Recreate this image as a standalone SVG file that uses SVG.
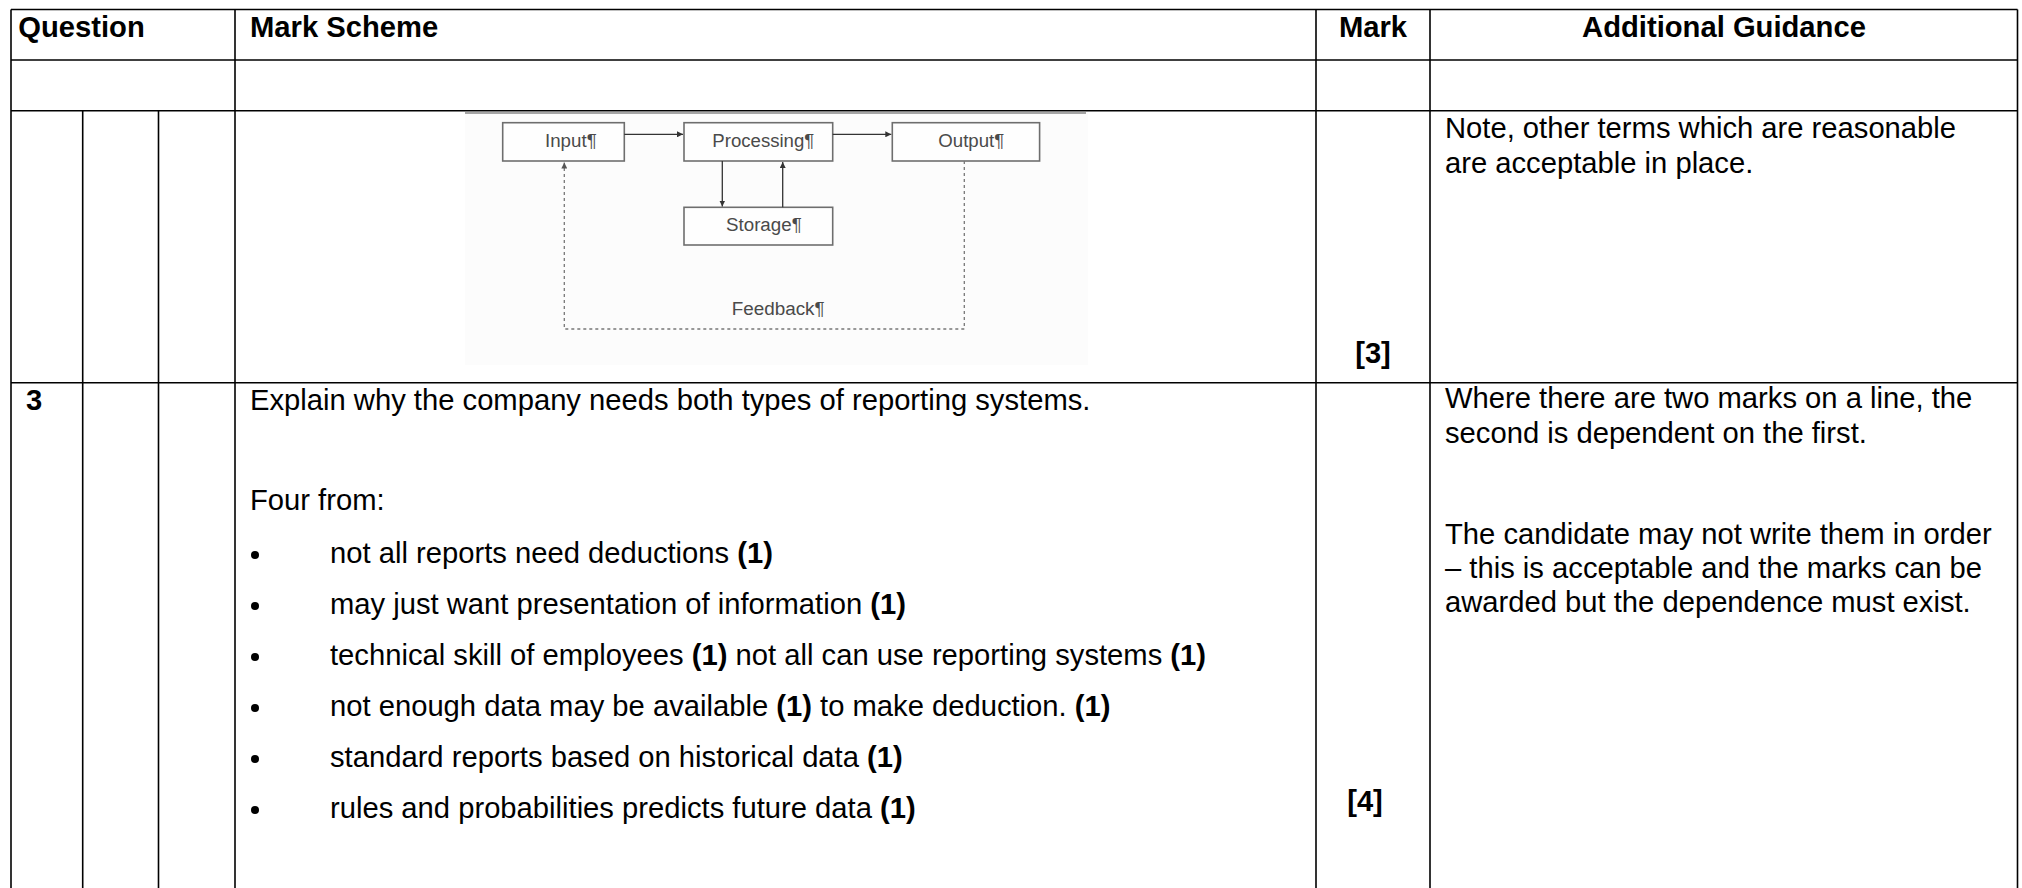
<svg xmlns="http://www.w3.org/2000/svg" width="2022" height="888" viewBox="0 0 2022 888">
<style>
  .t { font-family: "Liberation Sans", Arial, sans-serif; font-size: 29.2px; fill: #000; }
  .b { font-weight: bold; }
  .grid { stroke: #000; stroke-width: 1.6; fill: none; }
  .box { fill: #fefefe; stroke: #6e6e6e; stroke-width: 1.6; }
  .dt { font-family: "Liberation Sans", Arial, sans-serif; font-size: 18px; fill: #4a4a4a; }
  .arr { stroke: #333; stroke-width: 1.3; fill: none; }
  .dash { stroke: #777; stroke-width: 1.3; fill: none; stroke-dasharray: 3 3; }
</style>
<defs>
  <marker id="ah" viewBox="0 0 10 10" refX="10" refY="5" markerWidth="6" markerHeight="6" orient="auto" markerUnits="userSpaceOnUse">
    <path d="M0,0 L10,5 L0,10 z" fill="#333"/>
  </marker>
  <marker id="ahd" viewBox="0 0 10 10" refX="10" refY="5" markerWidth="6" markerHeight="6" orient="auto" markerUnits="userSpaceOnUse">
    <path d="M0,0 L10,5 L0,10 z" fill="#555"/>
  </marker>
</defs>
<rect x="0" y="0" width="2022" height="888" fill="#fff"/>

<!-- embedded diagram background -->
<rect x="465" y="112" width="623" height="253" fill="#fcfcfc"/>
<line x1="465" y1="113" x2="1086" y2="113" stroke="#888" stroke-width="1.5"/>

<!-- table grid -->
<g id="table-grid">
  <line class="grid" x1="11" y1="9.5" x2="2017.5" y2="9.5"/>
  <line class="grid" x1="11" y1="9.5" x2="11" y2="888"/>
  <line class="grid" x1="2017.5" y1="9.5" x2="2017.5" y2="888"/>
  <line class="grid" x1="11" y1="60" x2="2017.5" y2="60"/>
  <line class="grid" x1="11" y1="110.7" x2="2017.5" y2="110.7"/>
  <line class="grid" x1="11" y1="382.7" x2="2017.5" y2="382.7"/>
  <line class="grid" x1="82.7" y1="110.7" x2="82.7" y2="888"/>
  <line class="grid" x1="158.5" y1="110.7" x2="158.5" y2="888"/>
  <line class="grid" x1="235" y1="9.5" x2="235" y2="888"/>
  <line class="grid" x1="1316" y1="9.5" x2="1316" y2="888"/>
  <line class="grid" x1="1430" y1="9.5" x2="1430" y2="888"/>
</g>

<!-- headers -->
<g id="headers">
  <text class="t b" x="18.3" y="37">Question</text>
  <text class="t b" x="250" y="37">Mark Scheme</text>
  <text class="t b" x="1373" y="37" text-anchor="middle">Mark</text>
  <text class="t b" x="1724" y="37" text-anchor="middle">Additional Guidance</text>
</g>

<!-- row with diagram -->
<g id="row-diagram">
  <text class="t b" x="1373" y="363" text-anchor="middle">[3]</text>
  <text class="t" x="1445" y="138.3">Note, other terms which are reasonable</text>
  <text class="t" x="1445" y="173.3">are acceptable in place.</text>
</g>

<!-- diagram nodes -->
<g id="node-input">
  <rect class="box" x="502.7" y="122.7" width="121.6" height="38.3"/>
  <text class="dt" x="545" y="146.7" textLength="51.7" lengthAdjust="spacingAndGlyphs">Input¶</text>
</g>
<g id="node-processing">
  <rect class="box" x="684" y="122.7" width="148.7" height="38.3"/>
  <text class="dt" x="712.3" y="146.7" textLength="102" lengthAdjust="spacingAndGlyphs">Processing¶</text>
</g>
<g id="node-output">
  <rect class="box" x="892.3" y="122.7" width="147.3" height="38.3"/>
  <text class="dt" x="938.3" y="146.7" textLength="66" lengthAdjust="spacingAndGlyphs">Output¶</text>
</g>
<g id="node-storage">
  <rect class="box" x="684" y="207.3" width="148.7" height="37.7"/>
  <text class="dt" x="726" y="230.7" textLength="75.7" lengthAdjust="spacingAndGlyphs">Storage¶</text>
</g>
<g id="label-feedback">
  <text class="dt" x="731.7" y="315" textLength="93" lengthAdjust="spacingAndGlyphs">Feedback¶</text>
</g>

<!-- connectors -->
<g id="connectors">
  <line class="arr" x1="624.3" y1="134.3" x2="683" y2="134.3" marker-end="url(#ah)"/>
  <line class="arr" x1="832.7" y1="134.3" x2="891.3" y2="134.3" marker-end="url(#ah)"/>
  <line class="arr" x1="722.3" y1="161" x2="722.3" y2="206.5" marker-end="url(#ah)"/>
  <line class="arr" x1="782.7" y1="207.3" x2="782.7" y2="162" marker-end="url(#ah)"/>
  <path class="dash" d="M964.3,161 L964.3,329 L564.3,329 L564.3,162.5" marker-end="url(#ahd)"/>
</g>

<!-- question 3 row -->
<g id="row-q3">
  <text class="t b" x="26" y="410">3</text>
  <text class="t" x="250" y="410">Explain why the company needs both types of reporting systems.</text>
  <text class="t" x="250" y="510">Four from:</text>
  <g fill="#000">
    <circle cx="255" cy="555" r="4"/>
    <circle cx="255" cy="606" r="4"/>
    <circle cx="255" cy="657" r="4"/>
    <circle cx="255" cy="708" r="4"/>
    <circle cx="255" cy="759" r="4"/>
    <circle cx="255" cy="810" r="4"/>
  </g>
  <text class="t" x="330" y="563">not all reports need deductions <tspan class="b">(1)</tspan></text>
  <text class="t" x="330" y="614">may just want presentation of information <tspan class="b">(1)</tspan></text>
  <text class="t" x="330" y="665">technical skill of employees <tspan class="b">(1)</tspan> not all can use reporting systems <tspan class="b">(1)</tspan></text>
  <text class="t" x="330" y="716">not enough data may be available <tspan class="b">(1)</tspan> to make deduction. <tspan class="b">(1)</tspan></text>
  <text class="t" x="330" y="767">standard reports based on historical data <tspan class="b">(1)</tspan></text>
  <text class="t" x="330" y="818">rules and probabilities predicts future data <tspan class="b">(1)</tspan></text>
  <text class="t b" x="1365" y="811" text-anchor="middle">[4]</text>
  <text class="t" x="1445" y="408">Where there are two marks on a line, the</text>
  <text class="t" x="1445" y="443">second is dependent on the first.</text>
  <text class="t" x="1445" y="544">The candidate may not write them in order</text>
  <text class="t" x="1445" y="578">– this is acceptable and the marks can be</text>
  <text class="t" x="1445" y="612">awarded but the dependence must exist.</text>
</g>
</svg>
